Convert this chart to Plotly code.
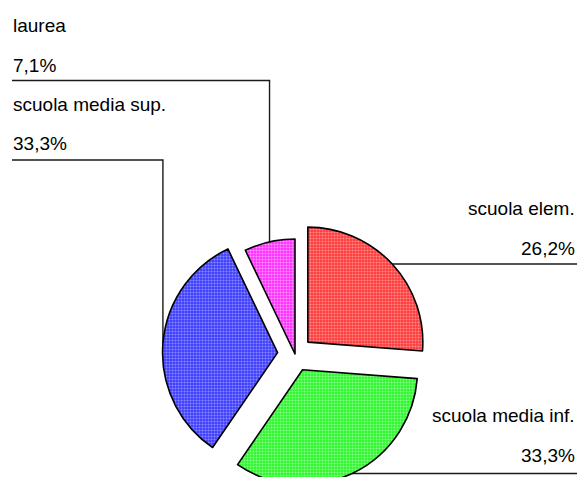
import numpy as np
import plotly.graph_objects as go

# Titolo di studio: quote percentuali
categorie = ["scuola elem.", "scuola media inf.", "scuola media sup.", "laurea"]
valori = [26.2, 33.3, 33.3, 7.1]
etichette_valori = ["26,2%", "33,3%", "33,3%", "7,1%"]

colori = ["#ff3a3a", "#2cf52c", "#3d3dff", "#ff2cff"]
colori_trama = ["#ff8c8c", "#8cff8c", "#8c8cff", "#ff9cff"]
estrazione = [0.152, 0.152, 0.152, 0.0]

# figure canvas (pixels); the pie is slightly cropped at the bottom edge
W, H = 582, 490
cx, cy, r = 295.0, 354.0, 115.0
R = r * (1 + max(estrazione))


def px(x):
    return x / W


def py(y):
    return 1 - y / H


fig = go.Figure(
    go.Pie(
        labels=categorie,
        values=valori,
        sort=False,
        direction="clockwise",
        rotation=0,
        pull=estrazione,
        textinfo="none",
        hoverinfo="skip",
        domain=dict(x=[px(cx - R), px(cx + R)], y=[py(cy + R), py(cy - R)]),
        marker=dict(
            colors=colori,
            line=dict(color="black", width=1.6),
            pattern=dict(shape=".", size=3, solidity=0.4,
                         fgcolor=colori_trama, bgcolor=colori,
                         fillmode="replace"),
        ),
    )
)

# mid-arc anchor of each slice for the leader lines
tot = sum(valori)
cum = np.cumsum([0] + valori) / tot * 360
mid = np.radians((cum[:-1] + cum[1:]) / 2)
anchor = []
for a, p in zip(mid, estrazione):
    d = r * p
    ax = cx + (d + r) * np.sin(a)
    ay = cy - (d + r) * np.cos(a)
    anchor.append((ax, ay))

line = dict(color="#1a1a1a", width=1.4)
shapes = []
# right side: horizontal leaders
for i in (0, 1):
    ax, ay = anchor[i]
    shapes.append(dict(type="line", xref="paper", yref="paper", layer="below",
                       x0=px(ax), y0=py(ay), x1=px(577), y1=py(ay), line=line))
# left side: vertical then horizontal leaders
for i, yl in ((2, 160), (3, 80.5)):
    ax, ay = anchor[i]
    shapes.append(dict(type="path", xref="paper", yref="paper", layer="below",
                       path=f"M {px(ax)},{py(ay)} L {px(ax)},{py(yl)} L {px(12)},{py(yl)}",
                       line=line))

font = dict(family="Liberation Sans, Arial, sans-serif", size=19, color="black")
testi = [
    (categorie[3], 10.5, 31.7, "left"),
    (etichette_valori[3], 10.5, 71.5, "left"),
    (categorie[2], 10.5, 110.5, "left"),
    (etichette_valori[2], 10.5, 150, "left"),
    (categorie[0], 577, 215, "right"),
    (etichette_valori[0], 577, 255, "right"),
    (categorie[1], 577, 422, "right"),
    (etichette_valori[1], 577, 461.7, "right"),
]
annotations = [
    dict(text=t, x=px(x), y=py(b - 6.5), xref="paper", yref="paper",
         xanchor=xa, yanchor="middle", showarrow=False, font=font)
    for t, x, b, xa in testi
]

fig.update_layout(
    width=W,
    height=H,
    margin=dict(l=0, r=0, t=0, b=0),
    paper_bgcolor="white",
    plot_bgcolor="white",
    showlegend=False,
    shapes=shapes,
    annotations=annotations,
)

fig.write_html(
    "out.html",
    post_script="document.documentElement.style.overflow='hidden';"
                "document.body.style.overflow='hidden';document.body.style.margin='0';",
)
